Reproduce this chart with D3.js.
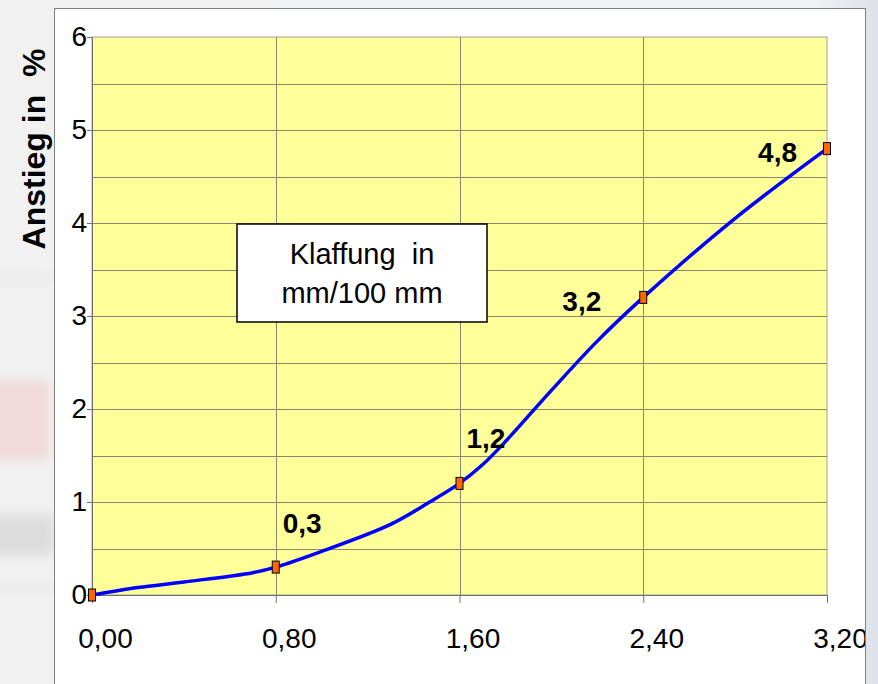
<!DOCTYPE html>
<html>
<head>
<meta charset="utf-8">
<script src="https://cdn.jsdelivr.net/npm/d3@7"></script>
<style>
  html, body { margin: 0; padding: 0; background: #efefef; }
  svg { display: block; }
  text { font-family: "Liberation Sans", Arial, sans-serif; fill: #000; white-space: pre; }
</style>
</head>
<body>
<svg id="chart" width="878" height="684"></svg>
<script>
// Measured points: Klaffung (mm/100 mm) vs. Anstieg (%)
const pointX = [0, 0.8, 1.6, 2.4, 3.2];
const pointY = [0, 0.3, 1.2, 3.2, 4.8];

// Smoothed curve through the measurements
const curveX = [0, 0.2, 0.4, 0.7, 0.8, 1.0, 1.3, 1.47, 1.6, 1.7, 1.8, 2.0, 2.2, 2.4, 2.8, 3.2];
const curveY = [0, 0.08, 0.14, 0.24, 0.3, 0.47, 0.76, 1.0, 1.2, 1.4, 1.65, 2.2, 2.73, 3.2, 4.05, 4.8];

const xTicks = [0, 0.8, 1.6, 2.4, 3.2];
const xTickLabels = ["0,00", "0,80", "1,60", "2,40", "3,20"];
const yTicks = [0, 1, 2, 3, 4, 5, 6];
const yTickLabels = ["0", "1", "2", "3", "4", "5", "6"];
const yGrid = [0.5, 1, 1.5, 2, 2.5, 3, 3.5, 4, 4.5, 5, 5.5];

const yTitle = "Anstieg in  %";
const noteLines = ["Klaffung  in", "mm/100 mm"];

// value label placement relative to each marker [dx, dy, anchor]
const labelPlacement = [null, [7, -34, "start"], [7, -35, "start"], [-42, 14, "end"], [-30, 13, "end"]];

const svg = d3.select("#chart");

// backdrop behind the chart panel
const bg = svg.append("g");
const defs = svg.append("defs");
const grad = defs.append("linearGradient").attr("id", "bgGrad").attr("x1", 0).attr("x2", 1);
grad.append("stop").attr("offset", "0").attr("stop-color", "#f1f1f1");
grad.append("stop").attr("offset", "0.93").attr("stop-color", "#eef0f3");
grad.append("stop").attr("offset", "1").attr("stop-color", "#dde1ea");
bg.append("rect").attr("width", 878).attr("height", 684).attr("fill", "url(#bgGrad)");
const blur = defs.append("filter").attr("id", "soft")
  .attr("filterUnits", "userSpaceOnUse").attr("x", -50).attr("y", 0).attr("width", 160).attr("height", 684);
blur.append("feGaussianBlur").attr("stdDeviation", 6);
const bgBits = bg.append("g").attr("filter", "url(#soft)");
bgBits.append("rect").attr("x", -10).attr("y", 380).attr("width", 60).attr("height", 80).attr("fill", "#f0d4d4").attr("opacity", 0.8);
bgBits.append("rect").attr("x", -10).attr("y", 515).attr("width", 65).attr("height", 40).attr("fill", "#dcdcdc");
bgBits.append("rect").attr("x", -10).attr("y", 276).attr("width", 65).attr("height", 4).attr("fill", "#e2e2e2");
bgBits.append("rect").attr("x", -10).attr("y", 586).attr("width", 65).attr("height", 4).attr("fill", "#e2e2e2");

// chart panel
const panelClip = defs.append("clipPath").attr("id", "panelClip");
panelClip.append("rect").attr("x", 55).attr("y", 8).attr("width", 810).attr("height", 690);
svg.append("rect").attr("x", 54.5).attr("y", 8.5).attr("width", 811).attr("height", 690)
  .attr("fill", "#ffffff").attr("stroke", "#7f7f7f").attr("stroke-width", 1);

const g = svg.append("g").attr("clip-path", "url(#panelClip)");

const x = d3.scaleLinear().domain([0, 3.2]).range([92, 827]);
const y = d3.scaleLinear().domain([0, 6]).range([595, 37]);

// plot area
g.append("rect").attr("x", x(0)).attr("y", y(6)).attr("width", x(3.2) - x(0)).attr("height", y(0) - y(6))
  .attr("fill", "#ffff99").attr("stroke", "#a0a0a0").attr("stroke-width", 1);

// gridlines
g.append("g").selectAll("line.h").data(yGrid).join("line")
  .attr("x1", x(0)).attr("x2", x(3.2))
  .attr("y1", d => Math.round(y(d)) + 0.5).attr("y2", d => Math.round(y(d)) + 0.5)
  .attr("stroke", "#8a8a6a").attr("stroke-width", 1);
g.append("g").selectAll("line.v").data(xTicks.slice(1, -1)).join("line")
  .attr("y1", y(6)).attr("y2", y(0))
  .attr("x1", d => Math.round(x(d)) + 0.5).attr("x2", d => Math.round(x(d)) + 0.5)
  .attr("stroke", "#8a8a6a").attr("stroke-width", 1);

// axes
const yAxis = g.append("g").attr("transform", `translate(${x(0)},0)`)
  .call(d3.axisLeft(y).tickValues(yTicks).tickSize(5).tickPadding(0)
    .tickFormat((d, i) => yTickLabels[i]));
yAxis.select(".domain").attr("stroke", "#6f6f6f");
yAxis.selectAll(".tick line").attr("stroke", "#6f6f6f");
yAxis.selectAll(".tick text").attr("font-size", 28).attr("font-family", "Liberation Sans, Arial, sans-serif").attr("fill", "#000");

const xAxis = g.append("g").attr("transform", `translate(0,${y(0)})`)
  .call(d3.axisBottom(x).tickValues(xTicks).tickSize(8).tickPadding(0)
    .tickFormat((d, i) => xTickLabels[i]));
xAxis.select(".domain").attr("stroke", "#6f6f6f");
xAxis.selectAll(".tick line").attr("stroke", "#6f6f6f");
xAxis.selectAll(".tick text").attr("font-size", 28).attr("font-family", "Liberation Sans, Arial, sans-serif")
  .attr("fill", "#000").attr("text-anchor", "middle").attr("dx", 13).attr("dy", 0).attr("y", 53);

// curve
const line = d3.line().x(d => x(d[0])).y(d => y(d[1])).curve(d3.curveCatmullRom.alpha(0.5));
g.append("path").datum(d3.zip(curveX, curveY))
  .attr("d", line).attr("fill", "none").attr("stroke", "#0000ff").attr("stroke-width", 3.5)
  .attr("stroke-linejoin", "round");

// markers
const pts = d3.zip(pointX, pointY);
g.append("g").selectAll("rect").data(pts).join("rect")
  .attr("x", d => x(d[0]) - 3.5).attr("y", d => y(d[1]) - 6)
  .attr("width", 7).attr("height", 12)
  .attr("fill", "#ff6600").attr("stroke", "#000").attr("stroke-width", 1);

// value labels
g.append("g").selectAll("text").data(pts.map((d, i) => [d, labelPlacement[i]]).filter(d => d[1]))
  .join("text")
  .attr("x", d => x(d[0][0]) + d[1][0]).attr("y", d => y(d[0][1]) + d[1][1])
  .attr("text-anchor", d => d[1][2])
  .attr("font-size", 28).attr("font-weight", "bold")
  .text(d => String(d[0][1]).replace(".", ","));

// axis title, left of the panel
svg.append("text").attr("transform", "translate(45,149) rotate(-90)")
  .attr("text-anchor", "middle").attr("font-size", 32).attr("font-weight", "bold")
  .text(yTitle);

// note box
const note = g.append("g");
note.append("rect").attr("x", 237).attr("y", 224).attr("width", 250).attr("height", 98)
  .attr("fill", "#ffffff").attr("stroke", "#000").attr("stroke-width", 1.5);
note.selectAll("text").data(noteLines).join("text")
  .attr("x", 362).attr("y", (d, i) => 264 + i * 39)
  .attr("text-anchor", "middle").attr("font-size", 29)
  .text(d => d);
</script>
</body>
</html>
